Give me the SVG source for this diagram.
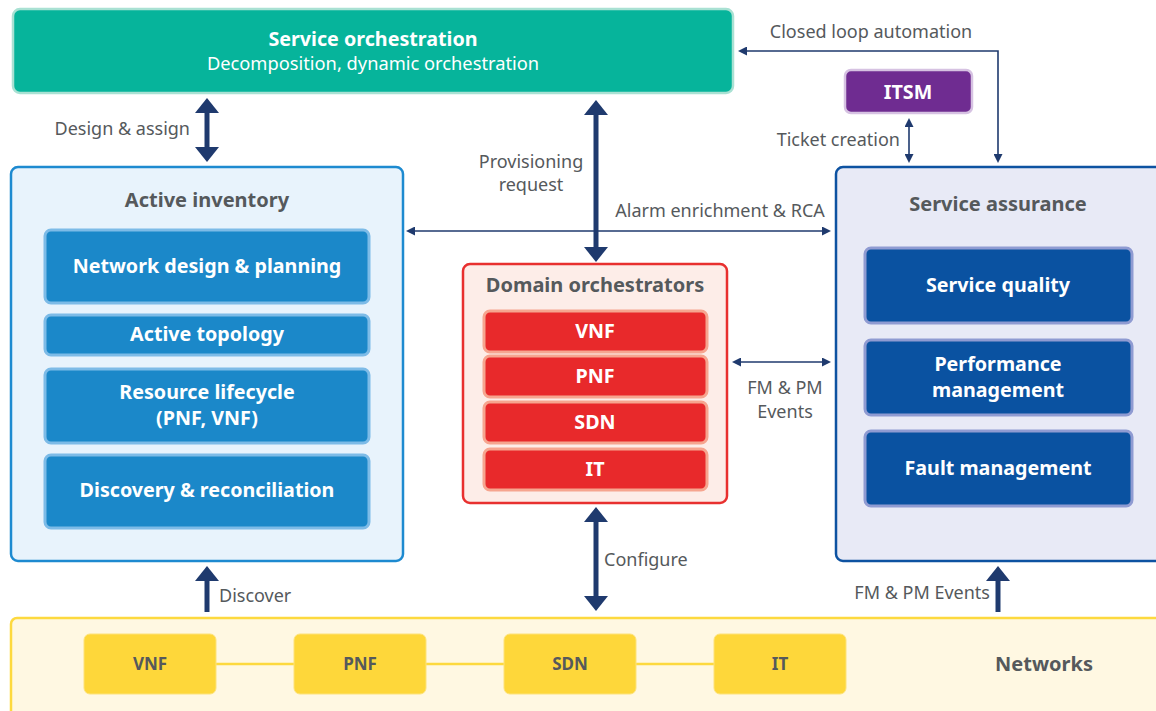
<svg xmlns="http://www.w3.org/2000/svg" width="1156" height="711" viewBox="0 0 1156 711">
<style>
.lbl{font-family:"Noto Sans",sans-serif;font-size:18px;fill:#55595c}
.ttl{font-family:"Noto Sans",sans-serif;font-size:20px;font-weight:bold;fill:#55595c;text-anchor:middle}
.wt{font-family:"Noto Sans",sans-serif;font-size:19.7px;font-weight:bold;fill:#ffffff;text-anchor:middle}
.nt{font-family:"Noto Sans",sans-serif;font-size:17px;font-weight:bold;fill:#55595c;text-anchor:middle}
.inv{fill:#1b88c9;stroke:#7dbbe7;stroke-width:3}
.dom{fill:#e8292b;stroke:#f6a58f;stroke-width:3}
.sa{fill:#0a52a1;stroke:#8f9bd2;stroke-width:3}
.net{fill:#fed73a;stroke:#fde27a;stroke-width:1}
.thick{stroke:#1f3a6e;stroke-width:5;fill:none}
.thin{stroke:#1f3a6e;stroke-width:1.6;fill:none}
</style>
<defs>
<marker id="hT" viewBox="0 0 15 24" refX="1" refY="12" markerWidth="15" markerHeight="24" markerUnits="userSpaceOnUse" orient="auto-start-reverse"><path d="M0,0 L15,12 L0,24 z" fill="#1f3a6e"/></marker>
<marker id="ht" viewBox="0 0 9 9" refX="1" refY="4.5" markerWidth="9" markerHeight="9" markerUnits="userSpaceOnUse" orient="auto-start-reverse"><path d="M0,0 L9,4.5 L0,9 z" fill="#1f3a6e"/></marker>
</defs>

<g id="networks">
<rect x="11" y="618" width="1150" height="100" rx="6" fill="#fff8e2" stroke="#fdd93f" stroke-width="2.5"/>
<g stroke="#fdd93f" stroke-width="2.5"><line x1="216" y1="664" x2="294" y2="664"/><line x1="426" y1="664" x2="504" y2="664"/><line x1="636" y1="664" x2="714" y2="664"/></g>
<rect class="net" x="84" y="634" width="132" height="60" rx="6"/>
<rect class="net" x="294" y="634" width="132" height="60" rx="6"/>
<rect class="net" x="504" y="634" width="132" height="60" rx="6"/>
<rect class="net" x="714" y="634" width="132" height="60" rx="6"/>
<text class="nt" x="150" y="670">VNF</text>
<text class="nt" x="360" y="670">PNF</text>
<text class="nt" x="570" y="670">SDN</text>
<text class="nt" x="780" y="670">IT</text>
<text class="ttl" x="1044" y="671" font-size="19.5">Networks</text>
</g>

<g id="service-orchestration">
<rect x="13" y="9" width="720" height="84" rx="7" fill="#06b49b" stroke="#a9e1d3" stroke-width="2.5"/>
<text class="wt" x="373" y="46" font-size="21">Service orchestration</text>
<text x="373" y="70" font-family="Noto Sans, sans-serif" font-size="18.3" fill="#ffffff" text-anchor="middle">Decomposition, dynamic orchestration</text>
</g>

<g id="itsm">
<rect x="845" y="70" width="127" height="43" rx="6" fill="#6f2c91" stroke="#d6c2e2" stroke-width="2.5"/>
<text class="wt" x="908" y="99" font-size="20">ITSM</text>
</g>

<g id="active-inventory">
<rect x="11" y="167" width="392" height="394" rx="7" fill="#e8f3fc" stroke="#1d8ad0" stroke-width="2.5"/>
<text class="ttl" x="207" y="207">Active inventory</text>
<rect class="inv" x="45" y="230" width="324" height="73" rx="6"/>
<text class="wt" x="207" y="273">Network design &amp; planning</text>
<rect class="inv" x="45" y="315" width="324" height="40" rx="6"/>
<text class="wt" x="207" y="341">Active topology</text>
<rect class="inv" x="45" y="369" width="324" height="74" rx="6"/>
<text class="wt" x="207" y="399">Resource lifecycle</text>
<text class="wt" x="207" y="425">(PNF, VNF)</text>
<rect class="inv" x="45" y="455" width="324" height="73" rx="6"/>
<text class="wt" x="207" y="497">Discovery &amp; reconciliation</text>
</g>

<g id="domain-orchestrators">
<rect x="463" y="264" width="264" height="239" rx="7" fill="#fdede8" stroke="#e8302f" stroke-width="2.5"/>
<text class="ttl" x="595" y="292">Domain orchestrators</text>
<rect class="dom" x="484" y="311" width="223" height="41" rx="6"/>
<text class="wt" x="595" y="338">VNF</text>
<rect class="dom" x="484" y="356" width="223" height="41" rx="6"/>
<text class="wt" x="595" y="383">PNF</text>
<rect class="dom" x="484" y="402" width="223" height="41" rx="6"/>
<text class="wt" x="595" y="429">SDN</text>
<rect class="dom" x="484" y="449" width="223" height="41" rx="6"/>
<text class="wt" x="595" y="476">IT</text>
</g>

<g id="service-assurance">
<rect x="836" y="167" width="330" height="394" rx="7" fill="#e8eaf6" stroke="#0d52a1" stroke-width="2.5"/>
<text class="ttl" x="998" y="211" font-size="20.5">Service assurance</text>
<rect class="sa" x="865" y="248" width="267" height="75" rx="6"/>
<text class="wt" x="998" y="292">Service quality</text>
<rect class="sa" x="865" y="340" width="267" height="75" rx="6"/>
<text class="wt" x="998" y="371">Performance</text>
<text class="wt" x="998" y="397">management</text>
<rect class="sa" x="865" y="431" width="267" height="75" rx="6"/>
<text class="wt" x="998" y="475">Fault management</text>
</g>

<g id="connectors">
<line class="thick" x1="207" y1="112" x2="207" y2="148" marker-start="url(#hT)" marker-end="url(#hT)"/>
<line class="thick" x1="596" y1="114" x2="596" y2="248" marker-start="url(#hT)" marker-end="url(#hT)"/>
<line class="thick" x1="596" y1="521" x2="596" y2="597" marker-start="url(#hT)" marker-end="url(#hT)"/>
<line class="thick" x1="207" y1="612" x2="207" y2="580" marker-end="url(#hT)"/>
<line class="thick" x1="998" y1="612" x2="998" y2="580" marker-end="url(#hT)"/>
<line class="thin" x1="414" y1="231" x2="823" y2="231" marker-start="url(#ht)" marker-end="url(#ht)"/>
<line class="thin" x1="740" y1="362" x2="823" y2="362" marker-start="url(#ht)" marker-end="url(#ht)"/>
<line class="thin" x1="909" y1="126" x2="909" y2="155" marker-start="url(#ht)" marker-end="url(#ht)"/>
<polyline class="thin" points="746,51 998,51 998,155" marker-start="url(#ht)" marker-end="url(#ht)"/>
<text class="lbl" x="190" y="135" text-anchor="end">Design &amp; assign</text>
<text class="lbl" x="531" y="168" text-anchor="middle">Provisioning</text>
<text class="lbl" x="531" y="191" text-anchor="middle">request</text>
<text class="lbl" x="720" y="217" text-anchor="middle">Alarm enrichment &amp; RCA</text>
<text class="lbl" x="871" y="38" text-anchor="middle">Closed loop automation</text>
<text class="lbl" x="900" y="146" text-anchor="end">Ticket creation</text>
<text class="lbl" x="785" y="394" text-anchor="middle">FM &amp; PM</text>
<text class="lbl" x="785" y="418" text-anchor="middle">Events</text>
<text class="lbl" x="604" y="566">Configure</text>
<text class="lbl" x="219" y="602">Discover</text>
<text class="lbl" x="990" y="599" text-anchor="end">FM &amp; PM Events</text>
</g>
</svg>
